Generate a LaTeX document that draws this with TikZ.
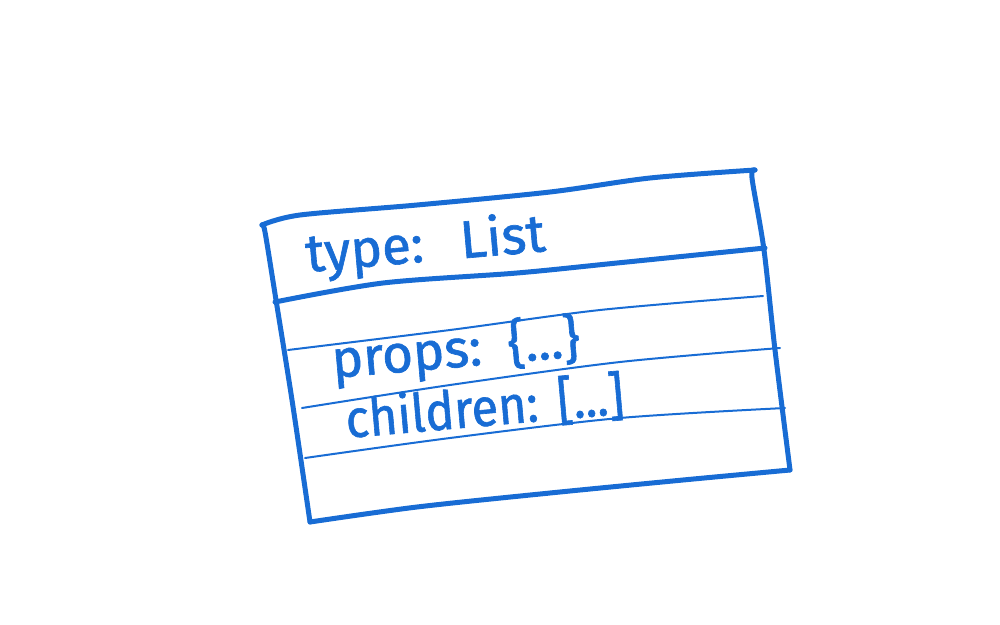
\documentclass[tikz,border=0pt]{standalone}
\usepackage{fontspec}
\setmainfont{Fira Sans}
\newfontfamily\handfont{Fira Sans}[FakeBold=1.2]
\definecolor{pen}{RGB}{24,108,212}
\tikzset{
	edge/.style={draw=pen,line width=5pt,line cap=round,line join=round},
	rule/.style={draw=pen,line width=2pt,line cap=round},
	field/.style={text=pen,inner sep=0pt,anchor=base west,rotate=5,font=\handfont\fontsize{53}{53}\selectfont}
}
\begin{document}
\begin{tikzpicture}[x=1pt,y=-1pt]
	\useasboundingbox (0,0) rectangle (1000,624);
	\draw[edge] plot[smooth] coordinates {(262,225) (300,215) (417,205) (550,192) (650,178) (755,170)};
	\draw[edge] plot[smooth] coordinates {(755,170) (752,178) (764,250) (775,350) (790,470)};
	\draw[edge] plot[smooth] coordinates {(310,522) (417,507) (550,493) (683,480) (790,470)};
	\draw[edge] plot[smooth] coordinates {(262,225) (265,232) (276,300) (292,400) (310,522)};
	\draw[edge] plot[smooth] coordinates {(275,302) (383,283) (517,273) (617,263) (765,248)};
	\draw[rule] plot[smooth] coordinates {(288,350) (450,330) (600,310) (763,296)};
	\draw[rule] plot[smooth] coordinates {(302,408) (450,385) (620,362) (780,348)};
	\draw[rule] plot[smooth] coordinates {(305,458) (450,438) (620,418) (785,408)};
	\node[field] (type) at (307,272) {type:\hspace{.7em}List};
	\node[field] (props) at (333,378) {props:\hspace{.5em}\{...\}};
	\node[field,xscale=.92] (children) at (347,438) {children:\hspace{.4em}[...]};
\end{tikzpicture}
\end{document}
